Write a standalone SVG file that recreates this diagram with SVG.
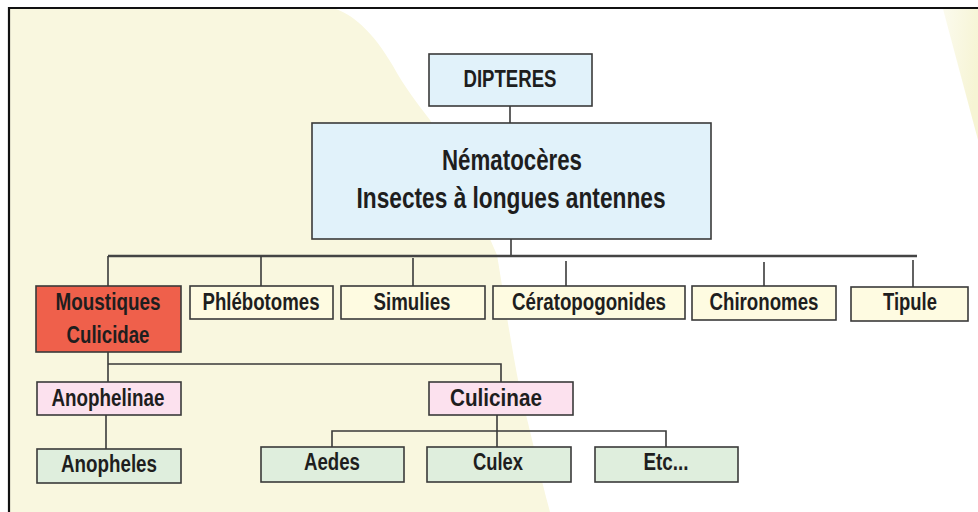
<svg xmlns="http://www.w3.org/2000/svg" width="978" height="512" viewBox="0 0 978 512">
<defs>
<linearGradient id="gr" x1="0" y1="0" x2="1" y2="0.4">
<stop offset="0" stop-color="#f6f4d4" stop-opacity="0.4"/>
<stop offset="1" stop-color="#f6f4d4" stop-opacity="1"/>
</linearGradient>
</defs>
<style>
.bx{stroke:#3a3a3a;stroke-width:1.6}
.blue{fill:#e1f2fa}
.yel{fill:#fefbe1}
.red{fill:#ef604b}
.pink{fill:#fce1ee}
.green{fill:#dfeedd}
text{font-family:"Liberation Sans",Arial,sans-serif;font-weight:bold;fill:#1e1e1e;text-anchor:middle}
.s{font-size:23px}
.b{font-size:29px}
.ln{stroke:#3a3a3a;stroke-width:1.6;fill:none}
.bus{stroke:#444;stroke-width:2.6;fill:none}
</style>
<rect width="978" height="512" fill="#fff"/>
<path d="M9,8 L333,8 C352,14 372,30 393,66 C405,88 418,104 430,120 C455,160 480,215 497,255 C503,290 510,340 520,390 C530,430 540,475 550,512 L9,512 Z" fill="#f9f7df"/>
<polygon points="943,9 978,9 978,140" fill="url(#gr)"/>
<path d="M9,512 L9,8 L978,8" fill="none" stroke="#111" stroke-width="2.2"/>
<g id="connectors">
<line class="ln" x1="510" y1="106" x2="510" y2="123"/>
<line class="ln" x1="511" y1="239" x2="511" y2="256"/>
<line class="bus" x1="108" y1="256" x2="917" y2="256"/>
<line class="ln" x1="108" y1="256" x2="108" y2="286"/>
<line class="ln" x1="261" y1="256" x2="261" y2="286"/>
<line class="ln" x1="413" y1="258" x2="413" y2="286"/>
<line class="ln" x1="566" y1="261" x2="566" y2="286"/>
<line class="ln" x1="764" y1="262" x2="764" y2="286"/>
<line class="ln" x1="913" y1="260" x2="913" y2="287"/>
<line class="ln" x1="108" y1="352" x2="108" y2="382"/>
<polyline class="ln" points="108,364 501,364 501,382"/>
<line class="ln" x1="106" y1="415" x2="106" y2="449"/>
<line class="ln" x1="497" y1="415" x2="497" y2="447"/>
<polyline class="ln" points="332,447 332,431 666,431 666,447"/>
</g>
<g id="dipteres"><rect class="bx blue" x="429" y="54" width="163" height="52"/><text class="s" x="510" y="87" textLength="93" lengthAdjust="spacingAndGlyphs">DIPTERES</text></g>
<g id="nematoceres"><rect class="bx blue" x="312" y="123" width="399" height="116"/><text class="b" x="512" y="170" textLength="140" lengthAdjust="spacingAndGlyphs">Nématocères</text><text class="b" x="511" y="208" textLength="309" lengthAdjust="spacingAndGlyphs">Insectes à longues antennes</text></g>
<g id="moustiques"><rect class="bx red" x="36" y="286" width="145" height="66"/><text class="s" x="108" y="310" textLength="105" lengthAdjust="spacingAndGlyphs">Moustiques</text><text class="s" x="108" y="343" textLength="83" lengthAdjust="spacingAndGlyphs">Culicidae</text></g>
<g id="phlebotomes"><rect class="bx yel" x="190" y="286" width="143" height="33"/><text class="s" x="261" y="310" textLength="117" lengthAdjust="spacingAndGlyphs">Phlébotomes</text></g>
<g id="simulies"><rect class="bx yel" x="341" y="286" width="144" height="33"/><text class="s" x="412" y="310" textLength="77" lengthAdjust="spacingAndGlyphs">Simulies</text></g>
<g id="ceratopogonides"><rect class="bx yel" x="493" y="286" width="192" height="33"/><text class="s" x="589" y="310" textLength="154" lengthAdjust="spacingAndGlyphs">Cératopogonides</text></g>
<g id="chironomes"><rect class="bx yel" x="692" y="286" width="144" height="34"/><text class="s" x="764" y="310" textLength="109" lengthAdjust="spacingAndGlyphs">Chironomes</text></g>
<g id="tipule"><rect class="bx yel" x="851" y="287" width="117" height="34"/><text class="s" x="910" y="310" textLength="54" lengthAdjust="spacingAndGlyphs">Tipule</text></g>
<g id="anophelinae"><rect class="bx pink" x="37" y="382" width="144" height="33"/><text class="s" x="108" y="406" textLength="113" lengthAdjust="spacingAndGlyphs">Anophelinae</text></g>
<g id="culicinae"><rect class="bx pink" x="429" y="382" width="144" height="33"/><text class="s" x="496" y="406" textLength="92" lengthAdjust="spacingAndGlyphs">Culicinae</text></g>
<g id="anopheles"><rect class="bx green" x="37" y="449" width="144" height="34"/><text class="s" x="109" y="472" textLength="96" lengthAdjust="spacingAndGlyphs">Anopheles</text></g>
<g id="aedes"><rect class="bx green" x="261" y="447" width="143" height="35"/><text class="s" x="332" y="470" textLength="56" lengthAdjust="spacingAndGlyphs">Aedes</text></g>
<g id="culex"><rect class="bx green" x="427" y="447" width="144" height="35"/><text class="s" x="498" y="470" textLength="50" lengthAdjust="spacingAndGlyphs">Culex</text></g>
<g id="etc"><rect class="bx green" x="595" y="447" width="143" height="35"/><text class="s" x="666" y="470" textLength="45" lengthAdjust="spacingAndGlyphs">Etc...</text></g>
</svg>
